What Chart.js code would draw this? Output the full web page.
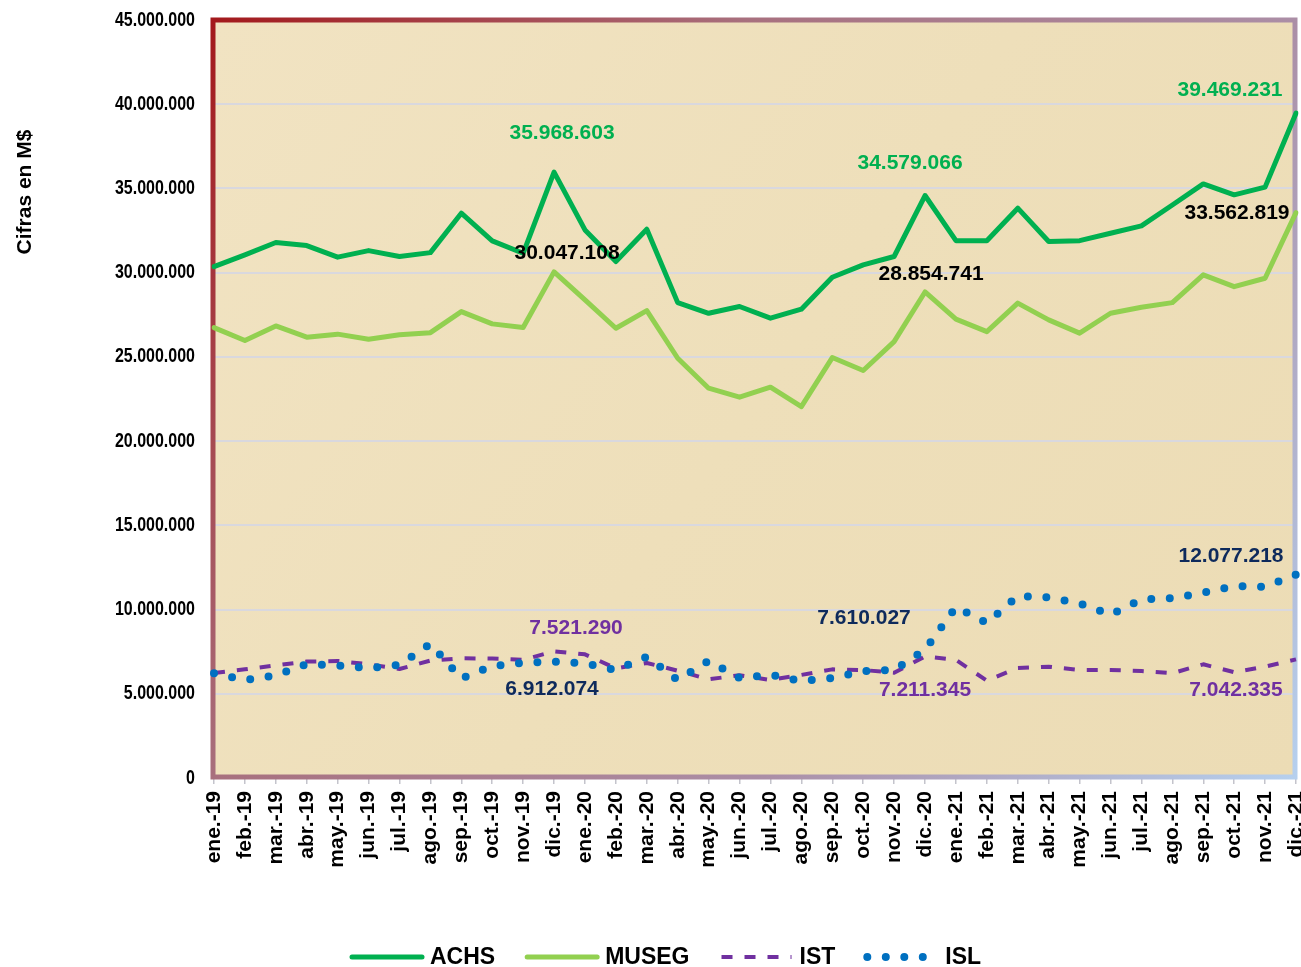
<!DOCTYPE html>
<html>
<head>
<meta charset="utf-8">
<script src="https://cdn.jsdelivr.net/npm/chart.js@4.4.0/dist/chart.umd.min.js"></script>
<style>
    html, body { margin: 0; padding: 0; background: #ffffff; }
    #wrap { width: 1301px; height: 967px; }
</style>
</head>
<body>
<div id="wrap"><canvas id="cifras-chart" width="1301" height="967"></canvas></div>
<script>
// months, ene-19 .. dic-21
const months = [
    'ene.-19', 'feb.-19', 'mar.-19', 'abr.-19', 'may.-19', 'jun.-19',
    'jul.-19', 'ago.-19', 'sep.-19', 'oct.-19', 'nov.-19', 'dic.-19',
    'ene.-20', 'feb.-20', 'mar.-20', 'abr.-20', 'may.-20', 'jun.-20',
    'jul.-20', 'ago.-20', 'sep.-20', 'oct.-20', 'nov.-20', 'dic.-20',
    'ene.-21', 'feb.-21', 'mar.-21', 'abr.-21', 'may.-21', 'jun.-21',
    'jul.-21', 'ago.-21', 'sep.-21', 'oct.-21', 'nov.-21', 'dic.-21'
];

// cifras en M$
const achs = [
    30360000, 31060000, 31790000, 31610000, 30920000, 31310000,
    30960000, 31190000, 33530000, 31890000, 31150000, 35968603,
    32540000, 30660000, 32580000, 28220000, 27590000, 27990000,
    27300000, 27830000, 29730000, 30460000, 30960000, 34579066,
    31900000, 31900000, 33830000, 31850000, 31900000, 32340000,
    32780000, 34020000, 35270000, 34620000, 35080000, 39469231
];
const museg = [
    26740000, 25970000, 26840000, 26170000, 26350000, 26050000,
    26310000, 26440000, 27690000, 26960000, 26740000, 30047108,
    28380000, 26700000, 27750000, 24920000, 23140000, 22610000,
    23200000, 22050000, 24960000, 24190000, 25910000, 28854741,
    27240000, 26500000, 28190000, 27200000, 26410000, 27590000,
    27950000, 28220000, 29870000, 29170000, 29670000, 33562819
];
const ist = [
    6240000, 6450000, 6690000, 6910000, 6950000, 6750000,
    6470000, 6970000, 7110000, 7090000, 7010000, 7521290,
    7340000, 6510000, 6830000, 6370000, 5860000, 6100000,
    5820000, 6120000, 6450000, 6410000, 6250000, 7211345,
    7010000, 5780000, 6530000, 6610000, 6410000, 6410000,
    6350000, 6220000, 6750000, 6280000, 6610000, 7042335
];
const isl = [
    6220000, 5820000, 6090000, 6770000, 6680000, 6530000,
    6710000, 7960000, 5900000, 6650000, 6830000, 6912074,
    6800000, 6410000, 7190000, 5820000, 6950000, 5940000,
    6120000, 5760000, 5940000, 6350000, 6410000, 7610027,
    10150000, 9200000, 10810000, 10720000, 10360000, 9700000,
    10600000, 10670000, 11000000, 11400000, 11340000, 12077218
];

const yTicks = [0, 5000000, 10000000, 15000000, 20000000, 25000000, 30000000, 35000000, 40000000, 45000000];

function puntos(v) {
    return Math.round(v).toString().replace(/\B(?=(\d{3})+(?!\d))/g, '.');
}

const BOLD = 'bold 21px "Liberation Sans", Arial, sans-serif';

// labels on dic-19, dic-20, dic-21: [dataset, index, dx, dy, color]
const valueLabels = [
    [0, 11, 8, -39, '#00B050'], [0, 23, -15, -32, '#00B050'], [0, 35, -66, -23, '#00B050'],
    [1, 11, 13, -19, '#000000'], [1, 23, 6, -18, '#000000'], [1, 35, -59, 1, '#000000'],
    [2, 11, 22, -23, '#7030A0'], [2, 23, 0, 34, '#7030A0'], [2, 35, -60, 31, '#7030A0'],
    [3, 11, -2, 28, '#0E2A5C'], [3, 23, -61, -32, '#0E2A5C'], [3, 35, -65, -18, '#0E2A5C']
];

const paper = {
    id: 'paper',
    beforeDraw(chart) {
        const { ctx, chartArea: a } = chart;
        ctx.save();
        const g = ctx.createLinearGradient(a.left, a.top, a.right, a.bottom);
        g.addColorStop(0, '#F1E3C2');
        g.addColorStop(0.5, '#EEDFBA');
        g.addColorStop(1, '#ECDCB5');
        ctx.fillStyle = g;
        ctx.fillRect(a.left, a.top, a.right - a.left, a.bottom - a.top);
        ctx.restore();
    },
    beforeDatasetsDraw(chart) {
        const { ctx, chartArea: a } = chart;
        ctx.save();
        const g = ctx.createLinearGradient(a.left, a.top, a.right, a.bottom);
        g.addColorStop(0, '#A3191C');
        g.addColorStop(0.33, '#A8707E');
        g.addColorStop(0.67, '#AB8EA6');
        g.addColorStop(1, '#B6D0EE');
        ctx.strokeStyle = g;
        ctx.lineWidth = 5;
        ctx.strokeRect(a.left - 1, a.top, a.right - a.left, a.bottom - a.top - 1);
        ctx.restore();
    },
    afterDraw(chart) {
        const { ctx } = chart;
        const y = chart.scales.y;
        ctx.save();

        // y tick labels, narrow bold
        ctx.fillStyle = '#000000';
        ctx.font = 'bold 20px "Liberation Sans", Arial, sans-serif';
        ctx.textAlign = 'right';
        ctx.textBaseline = 'middle';
        y.ticks.forEach(t => {
            ctx.save();
            ctx.translate(195, y.getPixelForValue(t.value));
            ctx.scale(0.8, 1);
            ctx.fillText(puntos(t.value), 0, 0);
            ctx.restore();
        });

        // axis title
        ctx.save();
        ctx.translate(25, 192);
        ctx.rotate(-Math.PI / 2);
        ctx.textAlign = 'center';
        ctx.font = BOLD;
        ctx.fillText('Cifras en M$', 0, 0);
        ctx.restore();

        // value labels
        ctx.font = BOLD;
        ctx.textAlign = 'center';
        valueLabels.forEach(([ds, i, dx, dy, color]) => {
            const pt = chart.getDatasetMeta(ds).data[i];
            ctx.fillStyle = color;
            ctx.fillText(puntos(chart.data.datasets[ds].data[i]), pt.x + dx, pt.y + dy);
        });

        // legend
        const ly = 957;
        let x = 352;
        ctx.font = 'bold 23px "Liberation Sans", Arial, sans-serif';
        ctx.textAlign = 'left';
        chart.data.datasets.forEach(d => {
            ctx.save();
            ctx.strokeStyle = d.borderColor;
            ctx.lineWidth = d.borderWidth;
            ctx.lineCap = d.borderCapStyle || 'round';
            ctx.setLineDash(d.borderDash || []);
            ctx.beginPath();
            ctx.moveTo(x, ly);
            ctx.lineTo(x + 70, ly);
            ctx.stroke();
            ctx.restore();
            ctx.fillStyle = '#000000';
            ctx.fillText(d.label, x + 78, ly + 1);
            x += 78 + ctx.measureText(d.label).width + 32;
        });
        ctx.restore();
    }
};

new Chart(document.getElementById('cifras-chart').getContext('2d'), {
    type: 'line',
    data: {
        labels: months,
        datasets: [
            { label: 'ACHS', data: achs, borderColor: '#00B050', borderWidth: 5, borderCapStyle: 'round', order: 3 },
            { label: 'MUSEG', data: museg, borderColor: '#92D050', borderWidth: 5, borderCapStyle: 'round', order: 2 },
            { label: 'IST', data: ist, borderColor: '#7030A0', borderWidth: 4, borderDash: [11, 12], borderCapStyle: 'butt', order: 1 },
            { label: 'ISL', data: isl, borderColor: '#0070C0', borderWidth: 8, borderDash: [0, 18.5], borderCapStyle: 'round', order: 0 }
        ]
    },
    options: {
        responsive: false,
        animation: false,
        layout: { padding: { top: 20, right: 5, left: 0, bottom: 0 } },
        elements: {
            point: { radius: 0, hoverRadius: 0 },
            line: { tension: 0, borderJoinStyle: 'round', fill: false }
        },
        scales: {
            x: {
                offset: false,
                border: { display: false },
                grid: { drawOnChartArea: false, drawTicks: true, tickLength: 6, color: '#C4C4CC', lineWidth: 1.5 },
                ticks: {
                    color: '#000000',
                    font: { family: '"Liberation Sans", Arial, sans-serif', size: 21, weight: 'bold' },
                    minRotation: 90, maxRotation: 90, autoSkip: false, padding: 7
                },
                afterFit(scale) {
                    scale.height = 189;
                    scale.paddingLeft = 0;
                    scale.paddingRight = 0;
                }
            },
            y: {
                min: 0, max: 45000000,
                border: { display: false },
                grid: { color: '#D9D8DE', lineWidth: 2, drawTicks: false },
                ticks: {
                    display: false,
                    stepSize: 5000000,
                    callback: v => puntos(v)
                },
                afterBuildTicks(scale) {
                    scale.ticks = yTicks.map(v => ({ value: v }));
                },
                afterFit(scale) {
                    scale.width = 214;
                }
            }
        },
        plugins: {
            legend: { display: false },
            tooltip: { enabled: false }
        }
    },
    plugins: [paper]
});
</script>
</body>
</html>
